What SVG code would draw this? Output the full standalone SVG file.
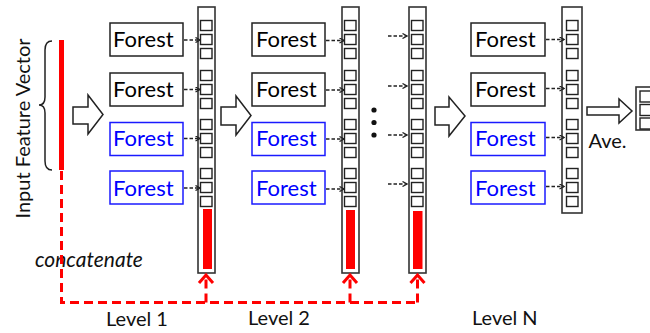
<svg xmlns="http://www.w3.org/2000/svg" width="650" height="333" viewBox="0 0 650 333">
<style>
.box{fill:#fff;stroke:#222;stroke-width:1.5}
.bbox{fill:#fff;stroke:#1a1aff;stroke-width:1.5}
.ft{font-family:Lato,"Liberation Sans",sans-serif;font-size:22px;fill:#000}
.bt{font-family:Lato,"Liberation Sans",sans-serif;font-size:22px;fill:#0000ff}
.lbl{font-family:Lato,"Liberation Sans",sans-serif;font-size:20px;fill:#111}
.col{fill:#fff;stroke:#333;stroke-width:1.6}
.cell{fill:#fff;stroke:#222;stroke-width:1.4}
.blk{fill:#fff;stroke:#222;stroke-width:1.5}
.da{fill:none;stroke:#222;stroke-width:1.4;stroke-dasharray:3.5 2}
.rd{fill:none;stroke:#ff0000;stroke-width:3;stroke-dasharray:9 5}
.rh{fill:none;stroke:#ff0000;stroke-width:3}
</style>
<defs>
<marker id="ah" markerWidth="6" markerHeight="6" refX="5" refY="3" orient="auto" markerUnits="userSpaceOnUse">
<path d="M0.5,0.5 L5,3 L0.5,5.5" fill="none" stroke="#222" stroke-width="1.3"/>
</marker>
<g id="cells">
<rect class="cell" x="0" y="20.5" width="11.5" height="10"/>
<rect class="cell" x="0" y="34.5" width="11.5" height="10"/>
<rect class="cell" x="0" y="48.5" width="11.5" height="10"/>
<rect class="cell" x="0" y="70.5" width="11.5" height="10"/>
<rect class="cell" x="0" y="84.5" width="11.5" height="10"/>
<rect class="cell" x="0" y="98.5" width="11.5" height="10"/>
<rect class="cell" x="0" y="119.5" width="11.5" height="10"/>
<rect class="cell" x="0" y="133.5" width="11.5" height="10"/>
<rect class="cell" x="0" y="147.5" width="11.5" height="10"/>
<rect class="cell" x="0" y="168.5" width="11.5" height="10"/>
<rect class="cell" x="0" y="182.5" width="11.5" height="10"/>
<rect class="cell" x="0" y="196.5" width="11.5" height="10"/>
</g>
</defs>
<rect width="650" height="333" fill="#fff"/>

<g id="input">
<text class="lbl" transform="translate(29.5,128.5) rotate(-90)" text-anchor="middle">Input Feature Vector</text>
<path d="M52,41 Q45,41 45,50 L45,97 Q45,105 39,105 Q45,105 45,113 L45,161 Q45,170 52,170" fill="none" stroke="#222" stroke-width="1.5"/>
<rect x="59" y="40" width="5" height="130" fill="#ff0000"/>
<text x="35" y="267" font-family="Lato,'Liberation Sans',sans-serif" font-size="21" font-style="italic" fill="#111">concatenate</text>
</g>

<g id="arrow-in">
<polygon class="blk" points="73,107 88,107 88,95 103,114.5 88,134 88,124 73,124"/>
</g>

<g id="level1">
<rect class="box" x="110" y="23" width="73" height="33"/><text class="ft" x="113" y="47">Forest</text>
<rect class="box" x="110" y="73" width="73" height="33"/><text class="ft" x="113" y="96.5">Forest</text>
<rect class="bbox" x="110" y="122.5" width="73" height="33"/><text class="bt" x="113" y="146">Forest</text>
<rect class="bbox" x="110" y="171" width="73" height="33"/><text class="bt" x="113" y="195.5">Forest</text>
<rect class="col" x="198" y="7" width="17" height="266"/>
<use href="#cells" x="200.5"/>
<rect x="203" y="209" width="9" height="60" fill="#ff0000"/>
<text class="lbl" x="106" y="325.5">Level 1</text>
</g>

<g id="arrow-12">
<polygon class="blk" points="221,107 236,107 236,96 251,115.5 236,135 236,125 221,125"/>
</g>

<g id="level2">
<rect class="box" x="252" y="23" width="73" height="33"/><text class="ft" x="256" y="47">Forest</text>
<rect class="box" x="252" y="73" width="73" height="33"/><text class="ft" x="256" y="96.5">Forest</text>
<rect class="bbox" x="252" y="122.5" width="73" height="33"/><text class="bt" x="256" y="146">Forest</text>
<rect class="bbox" x="252" y="171" width="73" height="33"/><text class="bt" x="256" y="195.5">Forest</text>
<rect class="col" x="342" y="7" width="17" height="266"/>
<use href="#cells" x="344.5"/>
<rect x="346" y="210" width="9" height="59" fill="#ff0000"/>
<text class="lbl" x="248" y="325">Level 2</text>
</g>

<g id="dots">
<circle cx="374" cy="110" r="2.6" fill="#111"/>
<circle cx="374" cy="122.5" r="2.6" fill="#111"/>
<circle cx="374" cy="135" r="2.6" fill="#111"/>
</g>

<g id="level3">
<rect class="col" x="409" y="7" width="17" height="266"/>
<use href="#cells" x="411.5"/>
<rect x="413" y="211" width="9.5" height="58" fill="#ff0000"/>
</g>

<g id="arrow-3n">
<polygon class="blk" points="435,107 449,107 449,97 465,116 449,136 449,125 435,125"/>
</g>

<g id="levelN">
<rect class="box" x="471" y="23" width="74" height="33"/><text class="ft" x="475" y="47">Forest</text>
<rect class="box" x="471" y="73" width="74" height="33"/><text class="ft" x="475" y="96.5">Forest</text>
<rect class="bbox" x="471" y="122.5" width="74" height="33"/><text class="bt" x="475" y="146">Forest</text>
<rect class="bbox" x="471" y="171" width="74" height="33"/><text class="bt" x="475" y="195.5">Forest</text>
<rect class="col" x="562" y="7" width="20" height="206"/>
<use href="#cells" x="566.5"/>
<text class="lbl" x="472" y="324.5">Level N</text>
</g>

<g id="average">
<polygon class="blk" points="587,107 619,107 619,99 632,111 619,123 619,115 587,115"/>
<text class="lbl" x="588.5" y="148">Ave.</text>
</g>

<g id="output">
<rect class="col" x="636" y="87" width="20" height="43"/>
<rect class="cell" x="640" y="91" width="14" height="11"/>
<rect class="cell" x="640" y="104.5" width="14" height="11"/>
<rect class="cell" x="640" y="118" width="14" height="11"/>
</g>

<g id="connectors">
<line class="da" x1="184" y1="40" x2="200" y2="40" marker-end="url(#ah)"/>
<line class="da" x1="184" y1="89.5" x2="200" y2="89.5" marker-end="url(#ah)"/>
<line class="da" x1="184" y1="138.5" x2="200" y2="138.5" marker-end="url(#ah)"/>
<line class="da" x1="184" y1="188" x2="200" y2="188" marker-end="url(#ah)"/>
<line class="da" x1="326" y1="40.5" x2="344" y2="40.5" marker-end="url(#ah)"/>
<line class="da" x1="326" y1="90" x2="344" y2="90" marker-end="url(#ah)"/>
<line class="da" x1="326" y1="139" x2="344" y2="139" marker-end="url(#ah)"/>
<line class="da" x1="326" y1="189" x2="344" y2="189" marker-end="url(#ah)"/>
<line class="da" x1="388" y1="36" x2="407" y2="36" marker-end="url(#ah)"/>
<line class="da" x1="388" y1="86" x2="407" y2="86" marker-end="url(#ah)"/>
<line class="da" x1="388" y1="135" x2="407" y2="135" marker-end="url(#ah)"/>
<line class="da" x1="388" y1="184" x2="407" y2="184" marker-end="url(#ah)"/>
<line class="da" x1="546" y1="39.5" x2="564" y2="39.5" marker-end="url(#ah)"/>
<line class="da" x1="546" y1="88.5" x2="564" y2="88.5" marker-end="url(#ah)"/>
<line class="da" x1="546" y1="137.5" x2="564" y2="137.5" marker-end="url(#ah)"/>
<line class="da" x1="546" y1="186.5" x2="564" y2="186.5" marker-end="url(#ah)"/>
<path class="rd" d="M61.5,171 L61.5,302.5 L417.5,302.5"/>
<path class="rd" d="M206,302.5 L206,276"/>
<path class="rd" d="M350,302.5 L350,276"/>
<path class="rd" d="M417.5,302.5 L417.5,276"/>
<polyline class="rh" points="199,283 206,275 213,283"/>
<polyline class="rh" points="343,283 350,275 357,283"/>
<polyline class="rh" points="410.5,283 417.5,275 424.5,283"/>
</g>
</svg>
